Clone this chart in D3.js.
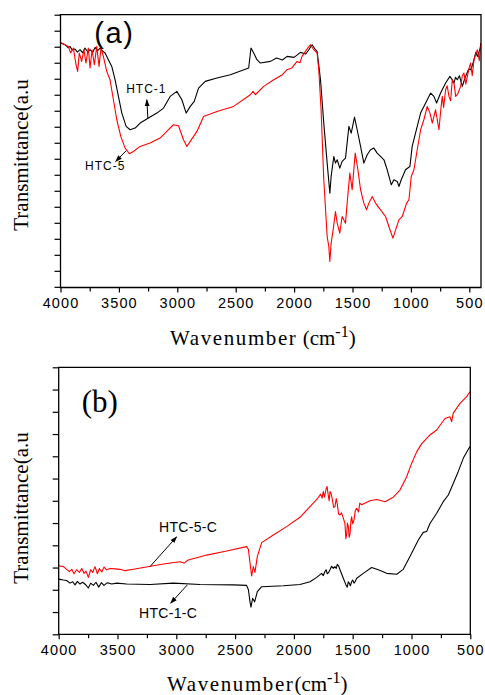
<!DOCTYPE html>
<html><head><meta charset="utf-8">
<script src="https://cdn.jsdelivr.net/npm/d3@7"></script>
<style>body{margin:0;background:#fff}svg{display:block}</style>
</head><body>
<script>
// ---- data (wavenumber cm-1, transmittance a.u.) ----
const xTicks = [4000, 3500, 3000, 2500, 2000, 1500, 1000, 500];
const wnHTC1 = [4000,3961,3935,3919,3900,3876,3855,3833,3812,3790,3768,3747,3725,3704,3682,3661,3640,3618,3590,3561,3533,3504,3475,3438,3404,3361,3318,3247,3175,3118,3061,3004,2961,2924,2889,2855,2818,2761,2661,2546,2389,2369,2346,2318,2289,2203,2150,2100,2060,2000,1946,1900,1874,1846,1817,1803,1774,1746,1717,1694,1683,1660,1646,1631,1609,1589,1560,1531,1511,1483,1460,1431,1403,1374,1346,1317,1289,1260,1231,1203,1168,1146,1117,1103,1083,1046,1009,989,946,917,874,831,803,780,746,703,666,650,632,618,603,585,560,545,532,505,489,475,460,445,431,415,403];
const tHTC1  = [73.3,72.8,71.9,72.3,71.2,71.5,70.6,71.3,70.4,71.8,70.7,71.3,70.5,72.0,71.0,71.8,70.9,70.3,68.3,66.3,62.3,57.3,52.3,48.3,47.3,47.8,49.3,50.8,52.3,53.8,57.3,58.8,56.3,52.3,54.3,55.8,59.8,61.8,62.8,63.8,65.8,71.8,70.3,68.3,67.3,67.8,68.8,68.2,69.3,69.0,70.5,70.0,71.3,72.8,71.3,70.8,62.3,49.3,37.3,28.3,33.3,39.3,37.3,38.3,35.8,37.8,38.8,48.3,46.3,51.1,47.3,42.3,37.3,39.8,41.3,41.8,40.3,39.3,38.3,35.3,30.8,32.3,31.8,30.3,32.3,35.3,36.3,42.3,48.3,52.3,55.3,58.3,57.3,55.3,58.3,61.3,63.3,62.5,61.3,63.0,62.3,63.5,60.3,62.0,63.3,65.5,65.3,66.5,68.3,70.5,69.3,70.8,72.3];
const wnHTC5 = [4000,3961,3933,3913,3890,3867,3853,3839,3819,3799,3782,3762,3747,3730,3710,3690,3670,3653,3633,3604,3576,3547,3518,3484,3447,3410,3376,3318,3233,3147,3090,3033,2990,2947,2918,2889,2832,2775,2661,2518,2375,2352,2332,2260,2175,2100,2060,2020,1975,1950,1932,1903,1883,1860,1832,1803,1789,1769,1746,1717,1703,1694,1683,1666,1646,1631,1609,1589,1560,1546,1523,1503,1477,1454,1431,1403,1380,1360,1331,1303,1260,1217,1189,1154,1131,1103,1074,1037,1017,997,974,946,917,889,860,837,817,789,760,745,732,720,703,690,674,660,646,630,617,600,574,560,546,530,517,500,489,475,460,445,431,415,403];
const tHTC5  = [73.5,72.8,72.3,70.3,71.8,66.8,64.8,70.3,67.8,71.3,67.3,71.8,65.8,71.3,66.8,72.3,66.3,71.8,69.3,64.8,62.3,56.3,50.3,45.3,41.8,40.1,40.8,42.3,43.3,44.8,46.8,48.8,48.5,44.3,42.3,43.8,46.8,51.3,52.8,54.3,57.8,58.8,57.8,60.3,62.3,63.8,65.3,65.8,67.8,67.4,69.3,70.8,71.8,72.8,71.3,70.3,65.3,53.3,32.3,15.3,12.3,7.8,13.3,17.3,22.8,19.3,16.3,21.3,19.3,25.3,34.3,29.3,40.3,35.3,29.3,25.3,23.3,25.3,27.3,25.3,23.3,21.3,18.3,14.8,17.3,20.3,21.3,25.3,26.3,33.3,35.3,41.3,47.3,50.3,54.3,52.3,49.3,53.3,47.3,53.0,57.3,54.0,59.3,60.5,57.3,56.0,62.3,61.0,57.3,58.0,60.3,63.5,64.3,61.0,63.3,66.0,67.3,63.5,68.3,70.0,71.3,68.0,73.3];
const wnHTC1C = [4000,3960,3932,3904,3881,3861,3841,3819,3796,3773,3748,3728,3705,3683,3660,3637,3615,3586,3549,3507,3422,3223,3025,2798,2515,2402,2387,2373,2365,2351,2334,2311,2274,2090,1948,1863,1806,1764,1750,1736,1726,1716,1705,1693,1680,1665,1651,1640,1631,1620,1608,1580,1557,1546,1538,1529,1520,1509,1500,1489,1478,1466,1410,1339,1282,1211,1126,1070,1013,942,900,871,843,786,730,687,645,602,559,503];
const tHTC1C  = [12.4,12.2,12.1,11.5,11.8,11.1,11.9,11.3,11.7,11.2,10.4,11.5,11.0,11.7,10.6,11.6,11.0,11.6,11.3,11.5,11.3,11.2,11.5,11.2,11.1,11.0,10.0,7.3,6.1,8.1,7.3,9.6,10.7,10.9,11.2,11.8,12.8,13.7,13.2,14.1,14.5,13.6,13.9,14.5,15.3,14.8,15.2,14.8,15.7,15.4,14.5,12.6,11.1,10.6,11.8,11.5,10.9,11.8,12.2,11.5,11.9,12.6,13.7,15.0,14.5,13.7,13.5,14.6,17.5,21.2,22.9,23.1,24.9,27.2,29.8,31.3,33.9,36.6,39.6,42.2];
const wnHTC5C = [4000,3960,3932,3909,3889,3870,3847,3824,3804,3785,3768,3748,3728,3711,3691,3671,3654,3634,3615,3592,3564,3521,3479,3436,3365,3280,3195,3082,2968,2934,2898,2742,2572,2402,2387,2373,2359,2345,2331,2311,2274,2175,2062,1948,1863,1806,1772,1760,1750,1740,1727,1718,1707,1700,1693,1685,1673,1662,1651,1640,1631,1620,1608,1595,1580,1566,1558,1551,1545,1537,1530,1523,1515,1509,1500,1489,1478,1466,1450,1440,1424,1353,1296,1225,1155,1098,1041,999,956,914,843,786,715,673,659,645,588,531,503];
const tHTC5C  = [15.4,15.2,14.6,14.1,14.6,13.6,14.5,13.9,14.8,13.7,14.2,12.8,14.5,13.9,15.2,13.6,14.8,14.0,15.1,14.5,14.8,14.7,14.6,14.3,14.6,15.0,15.4,15.9,16.3,16.0,16.7,17.8,18.7,19.7,19.1,16.0,13.1,15.2,13.9,17.5,20.6,22.3,24.2,26.3,28.7,30.3,31.5,30.6,32.1,30.8,32.6,33.2,31.1,30.0,32.1,31.8,30.3,28.5,28.7,30.5,29.3,27.0,26.8,27.3,26.1,24.9,21.5,22.5,25.0,24.2,21.8,22.5,25.5,26.4,24.8,25.7,27.8,28.3,27.5,29.5,29.1,30.0,30.3,29.8,30.8,32.4,35.4,38.4,41.0,42.8,44.8,45.9,48.5,48.9,47.8,49.7,51.9,53.4,54.5];

const panels = [
  {frame:{l:60.5,r:481,t:14.7,b:287.5}, xDom:[4000,400], yDom:[0,81.8], yStep:4.8, yFromTop:true,
   series:[{wn:wnHTC1,t:tHTC1,c:"#000"},{wn:wnHTC5,t:tHTC5,c:"#ff0000"}],
   tag:{text:"(a)", w:3710, v:73.2, font:"'Liberation Sans', Arial, sans-serif", size:29, ls:1.5},
   labels:[{text:"HTC-1", w:3438, v:58.4, size:12, ls:1, arrow:[3252,50.8,3261,56.3]},
           {text:"HTC-5", w:3790, v:35.3, size:12, ls:1, arrow:[3438,41.0,3528,37.8]}],
   ylab:{x:21,y:155}, xlab:{y:345, x:170, ls:1.6, paren:" (", gap:0}, tickY:303},
  {frame:{l:58.7,r:470.3,t:367.3,b:634.3}, xDom:[4000,500], yDom:[0,60], yStep:5, yFromTop:false,
   series:[{wn:wnHTC1C,t:tHTC1C,c:"#000"},{wn:wnHTC5C,t:tHTC5C,c:"#ff0000"}],
   tag:{text:"(b)", w:3805, v:50, font:"'Liberation Serif', 'Times New Roman', serif", size:31, ls:0},
   labels:[{text:"HTC-5-C", w:3147, v:23.0, size:14, ls:0.3, arrow:[3224,15.2,2997,21.9]},
           {text:"HTC-1-C", w:3317, v:3.7, size:14, ls:0.3, arrow:[2906,11.1,3048,7.0]}],
   ylab:{x:21,y:508}, xlab:{y:691, x:167, ls:1.6, paren:"(", gap:0}, tickY:650}
];

const svg = d3.select("body").append("svg").attr("width",485).attr("height",695);
const defs = svg.append("defs");
defs.append("marker").attr("id","ah").attr("viewBox","0 0 10 10").attr("refX",9).attr("refY",5)
  .attr("markerWidth",7).attr("markerHeight",7).attr("orient","auto-start-reverse")
  .append("path").attr("d","M0,1.5 L10,5 L0,8.5 Z").attr("fill","#000");

panels.forEach((p,pi)=>{
  const f=p.frame;
  const x=d3.scaleLinear().domain(p.xDom).range([f.l,f.r]);
  const y=d3.scaleLinear().domain(p.yDom).range([f.b,f.t]);
  const g=svg.append("g");
  g.append("defs").append("clipPath").attr("id","clip"+pi).append("rect")
    .attr("x",f.l).attr("y",f.t).attr("width",f.r-f.l).attr("height",f.b-f.t);
  p.series.forEach(s=>{
    const pts=s.wn.map((w,i)=>[w,s.t[i]]);
    g.append("path").datum(pts).attr("clip-path","url(#clip"+pi+")")
      .attr("fill","none").attr("stroke",s.c).attr("stroke-width",1.1).attr("stroke-linejoin","round")
      .attr("d",d3.line().x(d=>x(d[0])).y(d=>y(d[1])));
  });
  g.append("path").attr("fill","none").attr("stroke","#000").attr("stroke-width",1.3)
    .attr("d",`M${f.l},${f.b}H${f.r}V${f.t}H${f.l}Z`);
  const minorX=d3.range(p.xDom[0],p.xDom[1]-1,-250).filter(v=>v%500!==0);
  const xa=d3.axisBottom(x).tickValues(xTicks).tickSize(5).tickFormat(d3.format("d"));
  const xg=g.append("g").attr("transform",`translate(0,${f.b})`).call(xa);
  xg.select(".domain").remove();
  xg.selectAll("line").attr("stroke-width",1.2);
  xg.selectAll("text").attr("y",0).attr("dy",null).attr("transform",`translate(0,${p.tickY-f.b})`)
    .attr("dominant-baseline","central")
    .style("font-family","'Liberation Sans', Arial, sans-serif").style("font-size","14.5px").style("letter-spacing","1.1px").attr("fill","#000");
  g.append("g").attr("transform",`translate(0,${f.b})`).call(d3.axisBottom(x).tickValues(minorX).tickSize(4).tickFormat(""))
    .call(s=>{s.select(".domain").remove();s.selectAll("line").attr("stroke-width",1.2);});
  const n=Math.round((p.yDom[1]-p.yDom[0])/p.yStep);
  const yt=d3.range(n+1).map(i=>p.yFromTop? p.yDom[1]-i*p.yStep : p.yDom[0]+i*p.yStep);
  const ya=d3.axisLeft(y).tickValues(yt).tickSize(6).tickFormat("");
  const yg=g.append("g").attr("transform",`translate(${f.l},0)`).call(ya);
  yg.select(".domain").remove();
  yg.selectAll("line").attr("stroke-width",1.2);
  g.append("text").attr("x",x(p.tag.w)).attr("y",y(p.tag.v)).text(p.tag.text)
    .style("font-family",p.tag.font).style("font-size",p.tag.size+"px").style("letter-spacing",p.tag.ls+"px");
  p.labels.forEach(l=>{
    g.append("text").attr("x",x(l.w)).attr("y",y(l.v)).text(l.text)
      .style("font-family","'Liberation Sans', Arial, sans-serif").style("font-size",l.size+"px").style("letter-spacing",l.ls+"px");
    const a=l.arrow;
    g.append("line").attr("x1",x(a[0])).attr("y1",y(a[1])).attr("x2",x(a[2])).attr("y2",y(a[3]))
      .attr("stroke","#000").attr("stroke-width",1).attr("marker-end","url(#ah)");
  });
  svg.append("text").attr("transform",`translate(${p.ylab.x},${p.ylab.y}) rotate(-90)`)
    .attr("text-anchor","middle").attr("dominant-baseline","central")
    .style("font-family","'Liberation Serif', 'Times New Roman', serif").style("font-size","21px")
    .text("Transmittance(a.u");
  const xl=svg.append("text").attr("x",p.xlab.x).attr("y",p.xlab.y)
    .style("font-family","'Liberation Serif', 'Times New Roman', serif").style("font-size","21px");
  xl.append("tspan").style("letter-spacing",p.xlab.ls+"px").text("Wavenumber");
  xl.append("tspan").text(p.xlab.paren+"cm");
  xl.append("tspan").attr("dy",-8).style("font-size","16px").text("-1");
  xl.append("tspan").attr("dy",8).text(")");
});
</script>
</body></html>
